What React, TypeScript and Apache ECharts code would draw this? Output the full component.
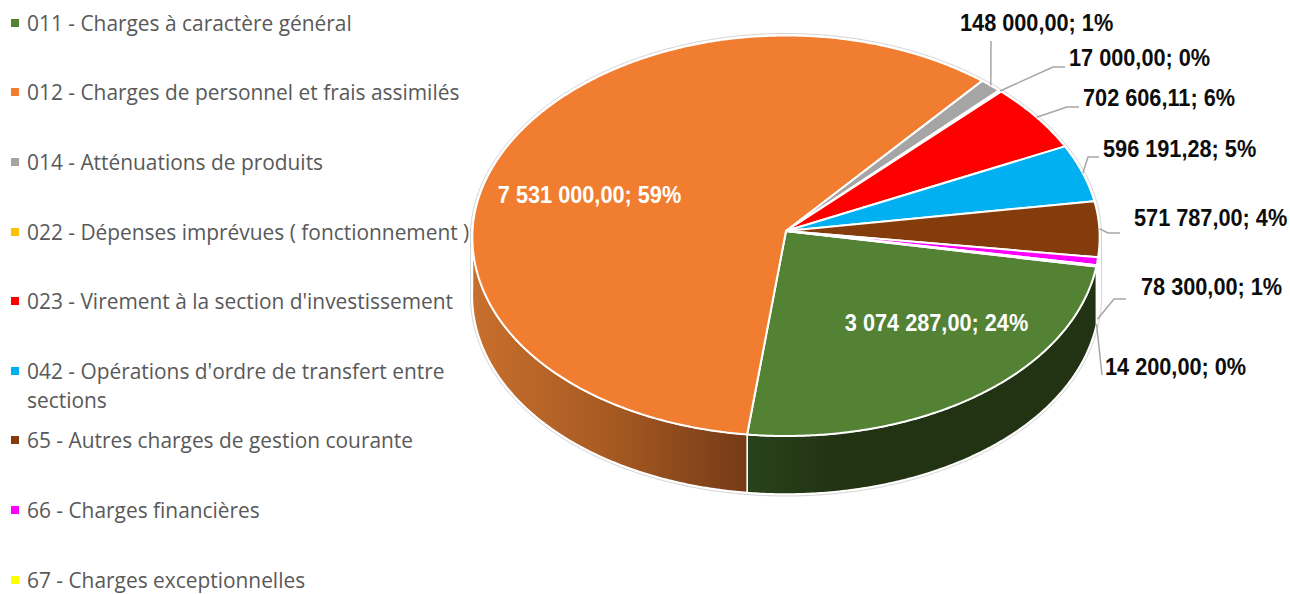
import React, { useEffect, useRef } from "react";
import * as echarts from "echarts";

// Budget chapters and amounts, clockwise from chapter 011
const legendLabels = [
  ["011 - Charges à caractère général"],
  ["012 - Charges de personnel et frais assimilés"],
  ["014 - Atténuations de produits"],
  ["022 - Dépenses imprévues ( fonctionnement )"],
  ["023 - Virement à la section d'investissement"],
  ["042 - Opérations d'ordre de transfert entre", "sections"],
  ["65 - Autres charges de gestion courante"],
  ["66 - Charges financières"],
  ["67 - Charges exceptionnelles"],
];
const amounts = [3074287, 7531000, 148000, 17000, 702606.11, 596191.28, 571787, 78300, 14200];
const sliceColors = ["#548235", "#F07D30", "#A5A5A5", "#FFC000", "#FF0000", "#00B0F0", "#843C0C", "#FF00FF", "#FFFF00"];

// Pie geometry: tilted disc with a slight perspective
const CX = 786;
const CY = 231;
const RX = 313.5;
const RY_BACK = 195.5;
const RY_FRONT = 205;
const TAPER = 0.03;
const DEPTH = 58;
const START_DEG = 10;

// Label placement per slice; slices without a leader carry their label on the face
type LabelPlace = { x: number; y: number; white?: boolean; leader?: number[][]; onWall?: boolean };
const labelPlaces: LabelPlace[] = [
  { x: 936.5, y: 323, white: true },
  { x: 589.5, y: 195, white: true },
  { x: 960, y: 23, leader: [[991, 41]] },
  { x: 1069, y: 58, leader: [[1053, 67], [1065, 67]] },
  { x: 1083, y: 98, leader: [[1067, 107], [1079, 107]] },
  { x: 1103, y: 149, leader: [[1088, 157], [1099, 157]] },
  { x: 1134, y: 218, leader: [[1108, 233], [1120, 233]] },
  { x: 1141, y: 287, leader: [[1114, 299], [1126, 299]], onWall: true },
  { x: 1105, y: 367, leader: [[1102, 375]], onWall: true },
];

const total = amounts.reduce((a, b) => a + b, 0);
const spans = (() => {
  let cursor = START_DEG;
  return amounts.map((v) => {
    const from = cursor;
    cursor += (v / total) * 360;
    return [from, cursor];
  });
})();

function rim(deg: number, grow = 0, drop = 0): number[] {
  const t = (deg * Math.PI) / 180;
  const s = Math.sin(t);
  const ry = s < 0 ? RY_BACK : RY_FRONT;
  return [CX + (RX + grow) * Math.cos(t) * (1 + TAPER * s), CY + (ry + grow) * s + drop];
}

function arcPoints(from: number, to: number, grow = 0, drop = 0): number[][] {
  const steps = Math.max(2, Math.ceil(Math.abs(to - from) * 2));
  const pts: number[][] = [];
  for (let i = 0; i <= steps; i++) pts.push(rim(from + ((to - from) * i) / steps, grow, drop));
  return pts;
}

function formatAmount(v: number): string {
  const [whole, cents] = v.toFixed(2).split(".");
  return whole.replace(/\B(?=(\d{3})+$)/g, " ") + "," + cents;
}

const wallFills: Record<number, any> = {
  0: new echarts.graphic.LinearGradient(0, 0, 1, 0, [
    { offset: 0, color: "#28421B" },
    { offset: 0.25, color: "#223314" },
    { offset: 1, color: "#223314" },
  ]),
  1: new echarts.graphic.LinearGradient(0, 0, 1, 0, [
    { offset: 0, color: "#C86F2D" },
    { offset: 0.5, color: "#A65A22" },
    { offset: 1, color: "#763A16" },
  ]),
};

const LABEL_FONT = "bold 23.5px 'Liberation Sans', sans-serif";
const LABEL_SQUEEZE = 0.924;
const LEGEND_FONT = "20.9px 'Open Sans', sans-serif";
const LEGEND_TOP = 22.8;
const LEGEND_STEP = 69.6;

export default function App() {
  const ref = useRef<HTMLDivElement>(null);

  useEffect(() => {
    document.body.style.margin = "0";
    const chart = echarts.init(ref.current!, undefined, { renderer: "svg" });

    const legendGraphics: any[] = [];
    legendLabels.forEach((lines, i) => {
      const cy = LEGEND_TOP + i * LEGEND_STEP;
      legendGraphics.push({
        type: "rect",
        shape: { x: 11, y: Math.round(cy) - 4, width: 8, height: 8 },
        style: { fill: sliceColors[i] },
      });
      lines.forEach((line, k) => {
        legendGraphics.push({
          type: "text",
          style: {
            text: line,
            x: 27,
            y: cy + k * 29,
            fill: "#595959",
            font: LEGEND_FONT,
            align: "left",
            verticalAlign: "middle",
          },
        });
      });
    });

    chart.setOption({
      animation: false,
      backgroundColor: "#ffffff",
      graphic: { elements: legendGraphics },
      series: [
        {
          // Faint hairline following the outside of the disc
          type: "custom",
          coordinateSystem: "none",
          silent: true,
          z: 1,
          data: [[0]],
          renderItem: () => ({
            type: "polygon",
            shape: { points: [...arcPoints(180, 360, 2), ...arcPoints(0, 180, 2, DEPTH)] },
            style: { fill: "#ffffff", stroke: "#D4D4D4", lineWidth: 1 },
          }),
        },
        {
          // Side walls and top faces of the slices
          type: "custom",
          coordinateSystem: "none",
          silent: true,
          z: 2,
          data: amounts.map((v) => [v]),
          renderItem: (params: any) => {
            const i = params.dataIndex;
            const [from, to] = spans[i];
            const children: any[] = [];
            if (wallFills[i]) {
              const wallEnd = Math.min(to, 180);
              children.push({
                type: "polygon",
                shape: { points: [...arcPoints(from, wallEnd), ...arcPoints(wallEnd, from, 0, DEPTH)] },
                style: { fill: wallFills[i], stroke: "#ffffff", lineWidth: 1.5 },
              });
            }
            children.push({
              type: "polygon",
              shape: { points: [[CX, CY], ...arcPoints(from, to)] },
              style: { fill: sliceColors[i], stroke: "#ffffff", lineWidth: 2, lineJoin: "round" },
            });
            return { type: "group", children };
          },
        },
        {
          // Value labels and their leader lines
          type: "custom",
          coordinateSystem: "none",
          silent: true,
          z: 3,
          data: amounts.map((v) => [v]),
          renderItem: (params: any, api: any) => {
            const i = params.dataIndex;
            const place = labelPlaces[i];
            const value = api.value(0);
            const [from, to] = spans[i];
            const children: any[] = [];
            if (place.leader) {
              const anchor = rim((from + to) / 2, 0, place.onWall ? DEPTH : 0);
              children.push({
                type: "polyline",
                shape: { points: [anchor, ...place.leader] },
                style: { fill: "none", stroke: "#A6A6A6", lineWidth: 1.5 },
              });
            }
            children.push({
              type: "text",
              x: place.x,
              y: place.y,
              scaleX: LABEL_SQUEEZE,
              style: {
                text: `${formatAmount(value)}; ${Math.round((value / total) * 100)}%`,
                x: 0,
                y: 0,
                fill: place.white ? "#ffffff" : "#0D0D0D",
                font: LABEL_FONT,
                align: place.white ? "center" : "left",
                verticalAlign: "middle",
              },
            });
            return { type: "group", children };
          },
        },
      ],
    });

    return () => chart.dispose();
  }, []);

  return <div ref={ref} style={{ width: 1290, height: 594, position: "absolute", left: 0, top: 0 }} />;
}
